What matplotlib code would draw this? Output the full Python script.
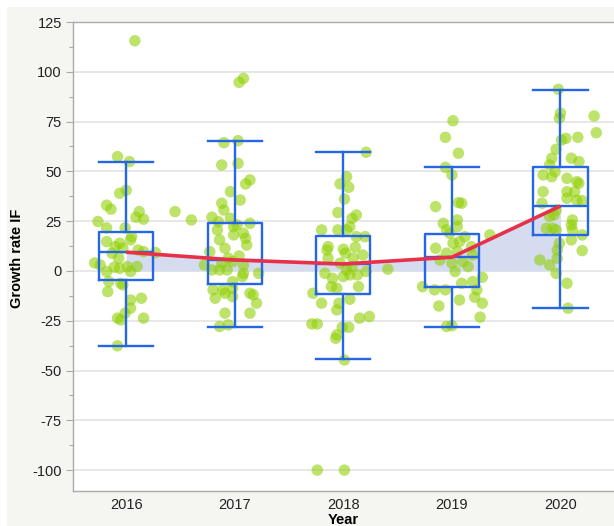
import numpy as np
import matplotlib
matplotlib.use('Agg')
import matplotlib.pyplot as plt
from matplotlib.patches import Rectangle
from matplotlib.ticker import MultipleLocator

plt.rcParams['font.family'] = ['Liberation Sans', 'DejaVu Sans']
plt.rcParams['axes.unicode_minus'] = False

years = ['2016', '2017', '2018', '2019', '2020']

# box summary per year
whislo = [-37.6, -28.0, -44.3, -28.4, -18.7]
q1 = [-4.5, -6.7, -11.5, -7.9, 18.1]
med = [9.4, 5.5, 3.5, 6.9, 32.6]
q3 = [19.7, 24.2, 17.6, 18.6, 52.3]
whishi = [54.9, 65.4, 59.6, 52.3, 90.8]

# individual observations (value) and their horizontal jitter (category units)
val_2016 = [57.4, 54.9, 39, 40.5, 33, 31, 29.8, 27, 26, 24.8, 21.6, 21.6, 17.2, 15.6,
            14.7, 12.2, 13.9, 11.4, 10.5, 9.7, 9.2, 8.9, 6.4, 3, 2.2, 2.2, 1.9, -0.3,
            1.3, -0.3, -5.3, -6.2, -7, -10.4, -14.6, -13.7, -18.7, -21.2, -23.7, -24.6,
            -23.7, -37.6, 115.6, 4, 29.8]
jit_2016 = [-0.08, 0.03, -0.06, 0, -0.18, -0.14, 0.12, 0.09, 0.16, -0.26, -0.18, -0.01, 0.05, 0.04,
            -0.18, -0.1, -0.06, -0.03, 0.11, 0.16, 0.27, -0.13, -0.07, -0.24, 0.01, 0.1, -0.11, -0.18,
            -0.06, 0.04, -0.16, -0.05, -0.03, -0.17, 0.04, 0.14, 0.04, -0.01, -0.08, -0.05,
            0.16, -0.08, 0.08, -0.29, 0.45]

val_2017 = [64.4, 65.4, 53.2, 54, 43.7, 45.7, 39.8, 35.6, 34, 30.6, 27, 24.7, 26.4, 22.2,
            23.1, 23.9, 20.6, 18.1, 18.9, 16.4, 15.6, 13, 11.4, 9.7, 7.5, 6.4, 3, 3.9,
            4.7, 3, 0.5, 0.5, 0.5, -1.2, -1.2, -2.8, -5.4, -9.5, -9.5, -8.7, -11.2, -12.9,
            -11.2, -12, -13.7, -16.2, -21.2, -21.2, -27.9, -27.1, 94.7, 96.7, 25.6]
jit_2017 = [-0.1, 0.03, -0.12, 0.03, 0.1, 0.14, -0.04, 0.05, -0.12, -0.1, -0.21, -0.15, -0.04, -0.01,
            0.02, 0.14, -0.16, -0.01, 0.08, 0.1, -0.14, 0.11, -0.09, -0.23, 0.04, -0.06, -0.28, -0.12,
            -0.02, 0.08, -0.21, -0.14, -0.07, 0.22, 0.08, 0.07, -0.02, -0.2, -0.11, -0.02, -0.09, -0.02,
            0.14, 0.17, -0.18, 0.2, -0.09, 0.14, -0.14, -0.06, 0.04, 0.08, -0.4]

val_2018 = [59.6, 43.7, 47.3, 42, 36.1, 29.3, 28.1, 26.4, 22.2, 20.6, 20.6, 20.6, 17.2, 17.2,
            12.2, 10.5, 10.9, 11.9, 8.9, 8, 6.4, 6.4, 3.9, 2.2, -1.2, 0.5, -2, -0.3,
            -2, -2.8, 0.9, -3.7, -7.9, -8.7, -7.9, -11.2, -14.2, -16.2, -16.2, -19.6, -23.7, -22.9,
            -26.6, -26.6, -28.3, -28.3, -32.1, -33.8, -44.7, -100, -100]
jit_2018 = [0.21, -0.03, 0.03, 0.05, 0.01, -0.05, 0.12, 0.08, 0.06, -0.2, -0.05, 0.03, 0.12, 0.2,
            -0.14, -0.15, 0, 0.11, 0.02, 0.18, -0.14, 0.09, -0.03, 0.08, -0.17, 0.03, 0.13, 0.21,
            0.06, 0, 0.41, -0.1, -0.11, -0.06, 0.14, -0.28, 0.06, -0.2, -0.04, -0.06, 0.15, 0.24,
            -0.29, -0.24, 0.05, -0.01, -0.06, -0.07, 0.01, -0.24, 0.01]

val_2019 = [75.4, 67.1, 59.1, 52, 48.2, 32.3, 34.3, 34, 23.9, 25.6, 22.2, 18.9, 17.2, 18.1,
            14.7, 13.9, 11.4, 12.2, 8.9, 9.7, 8, 5.5, 3.9, 4.7, 2.2, -0.3, -3.2, -7.9,
            -9.5, -9.5, -6.2, -9.5, -5.4, -14.6, -13.2, -16.2, -17.6, -23.2, -27.9, -27.5, 20.6]
jit_2019 = [0.01, -0.06, 0.06, -0.06, 0, -0.15, 0.06, 0.09, -0.08, 0.05, 0.05, -0.02, 0.12, 0.35,
            0.07, 0.01, -0.15, 0.18, -0.05, 0.05, 0.19, -0.11, 0, 0.1, 0.15, 0.03, 0.28, -0.27,
            -0.16, -0.06, 0.09, 0.23, 0.19, 0.07, 0.21, 0.28, -0.12, 0.26, -0.05, 0, -0.05]

val_2020 = [91.2, 79.2, 76.7, 77.8, 69.4, 67.1, 66.6, 65.7, 61.1, 56.6, 53.2, 56.6, 54.9, 49.8,
            48.2, 47.3, 46.5, 44.8, 44, 39.8, 39.8, 39.8, 36.5, 35.6, 35.3, 34, 30.6, 27.3,
            28.1, 25.6, 23.1, 21.4, 21.4, 20.6, 20.6, 18.1, 15.6, 13.9, 10.5, 10.2, 5.5, 3,
            6.4, -1.2, -6.2, -18.7]
jit_2020 = [-0.02, 0, -0.01, 0.31, 0.33, 0.16, 0.05, 0.01, -0.04, -0.08, -0.1, 0.1, 0.17, -0.05,
            -0.16, -0.08, 0.06, 0.15, 0.17, -0.16, 0.06, 0.13, 0.06, 0.15, 0.2, -0.17, -0.04, -0.1,
            -0.06, 0.11, 0.1, -0.13, -0.07, -0.04, 0.11, 0.2, 0.1, -0.01, -0.03, 0.2, -0.19, -0.1,
            -0.03, -0.04, 0.06, 0.07]

values = [val_2016, val_2017, val_2018, val_2019, val_2020]
jitters = [jit_2016, jit_2017, jit_2018, jit_2019, jit_2020]

W, H = 614, 526
fig = plt.figure(figsize=(W / 100, H / 100), dpi=100)
fig.patch.set_facecolor('white')
fig.add_artist(Rectangle((7 / W, 0), 1, 1 - 7 / H, transform=fig.transFigure,
                         facecolor='#f5f5f1', edgecolor='none', zorder=-10))

ax = fig.add_axes([73 / W, 35 / H, (618 - 73) / W, (491 - 22) / H])
ax.set_facecolor('white')

pos = np.arange(len(years))

ax.fill_between(pos, 0, med, color='#d5dcef', lw=0, zorder=1)

for i in range(len(years)):
    ax.scatter(i + np.array(jitters[i]), values[i], s=68, color='#8fcf00',
               alpha=0.58, edgecolors='none', zorder=2)

stats = [dict(whislo=whislo[i], q1=q1[i], med=med[i], q3=q3[i], whishi=whishi[i],
              fliers=[], label=years[i]) for i in range(len(years))]
blue = '#2466e6'
ax.bxp(stats, positions=pos, widths=0.5, capwidths=0.5, showfliers=False,
       boxprops=dict(color=blue, lw=1.7), whiskerprops=dict(color=blue, lw=1.7),
       capprops=dict(color=blue, lw=1.7), medianprops=dict(color=blue, lw=1.7),
       manage_ticks=False, zorder=3)

ax.plot(pos, med, color='#e8304a', lw=2.6, solid_capstyle='butt', zorder=4)

ax.set_xlim(-0.49, 4.53)
ax.set_ylim(-110.5, 125)
ax.set_xticks(pos)
ax.set_xticklabels(years)
ax.yaxis.set_major_locator(MultipleLocator(25))
ax.yaxis.set_minor_locator(MultipleLocator(12.5))
ax.grid(axis='y', color='#e0e0e0', lw=1.1, zorder=0)
ax.set_axisbelow(True)
ax.tick_params(axis='y', which='major', length=5, width=0.8, color='#aaaaaa',
               labelsize=10.5, labelcolor='#222222', pad=3)
ax.tick_params(axis='y', which='minor', length=3, width=0.8, color='#aaaaaa')
ax.tick_params(axis='x', length=0, labelsize=10.5, labelcolor='#222222', pad=5)
for side in ['left', 'bottom', 'top']:
    ax.spines[side].set_color('#aaaaaa')
    ax.spines[side].set_linewidth(1.0)
ax.spines['right'].set_visible(False)

fig.text(17 / W, 1 - 258 / H, 'Growth rate IF', rotation=90, ha='center', va='center',
         fontsize=10.5, fontweight='bold')
fig.text(343 / W, 1 - 513 / H, 'Year', ha='center', va='top', fontsize=10.5,
         fontweight='bold')

fig.savefig('out.png', dpi=100)
